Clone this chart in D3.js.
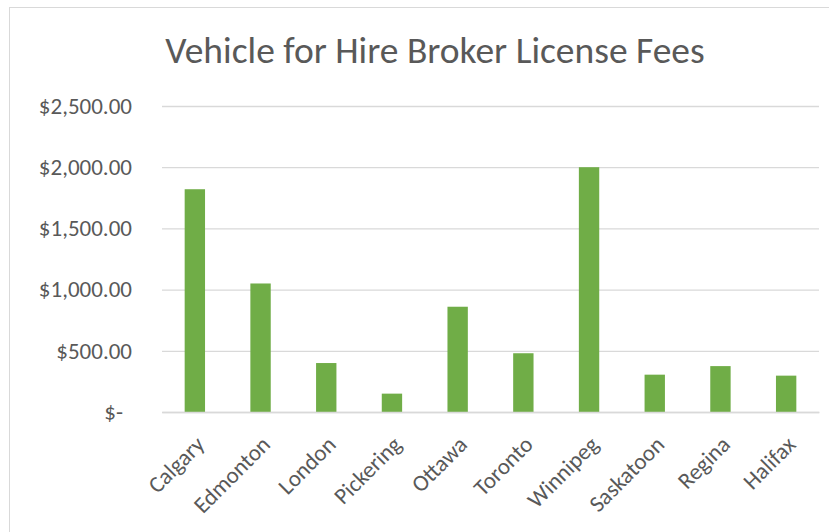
<!DOCTYPE html>
<html lang="en">
<head>
    <meta charset="UTF-8">
    <title>Vehicle for Hire Broker License Fees</title>
    <script src="https://d3js.org/d3.v7.min.js"></script>
    <style>
        body { margin: 0; background: #fff; }
        svg text { font-family: Carlito, "Open Sans", sans-serif; fill: #595959; }
    </style>
</head>
<body>
    <svg width="829" height="532"></svg>

    <script>
        // data
        const cities = ["Calgary", "Edmonton", "London", "Pickering", "Ottawa", "Toronto", "Winnipeg", "Saskatoon", "Regina", "Halifax"];
        const fees = [1820, 1050, 400, 150, 860, 480, 2000, 305, 375, 297];
        const yTicks = [0, 500, 1000, 1500, 2000, 2500];

        const svg = d3.select('svg');
        const margin = {top: 106, right: 10, bottom: 120, left: 162};
        const width = +svg.attr('width') - margin.left - margin.right;
        const height = +svg.attr('height') - margin.top - margin.bottom;

        // chart frame
        svg.append('rect')
            .attr('x', 9.5).attr('y', 7.5)
            .attr('width', 900).attr('height', 600)
            .attr('fill', '#fff')
            .attr('stroke', '#d9d9d9');

        svg.append('text')
            .attr('x', 435).attr('y', 63)
            .attr('text-anchor', 'middle')
            .style('font-size', '37.5px')
            .style('font-weight', 300)
            .text('Vehicle for Hire Broker License Fees');

        const g = svg.append('g').attr('transform', `translate(${margin.left},${margin.top})`);

        const x = d3.scaleBand().domain(cities).range([0, width]).paddingInner(0.69).paddingOuter(0.345);
        const y = d3.scaleLinear().domain([0, 2500]).range([height, 0]);

        const money = d3.format('$,.2f');
        const yAxis = g.append('g')
            .call(d3.axisLeft(y).tickValues(yTicks).tickSize(-width).tickPadding(30)
                .tickFormat(d => d === 0 ? '$-' : money(d)));
        yAxis.select('.domain').remove();
        yAxis.selectAll('.tick line').attr('stroke', '#d9d9d9').attr('stroke-width', 1.3);
        yAxis.selectAll('.tick text').style('font-size', '23px')
            .attr('dx', d => d === 0 ? -9 : 0);

        g.selectAll('rect.bar')
            .data(fees)
            .enter().append('rect')
            .attr('class', 'bar')
            .attr('x', (d, i) => x(cities[i]))
            .attr('y', d => y(d))
            .attr('width', x.bandwidth())
            .attr('height', d => height - y(d))
            .attr('fill', '#70ad47');

        const xAxis = g.append('g')
            .attr('transform', `translate(0,${height})`)
            .call(d3.axisBottom(x).tickSize(0));
        xAxis.select('.domain').attr('stroke', '#d9d9d9').attr('stroke-width', 1.5);
        xAxis.selectAll('.tick text')
            .style('font-size', '23px')
            .attr('text-anchor', 'end')
            .attr('x', 0).attr('y', 0).attr('dy', 0)
            .attr('transform', 'translate(11,34) rotate(-45)');
    </script>
</body>
</html>
